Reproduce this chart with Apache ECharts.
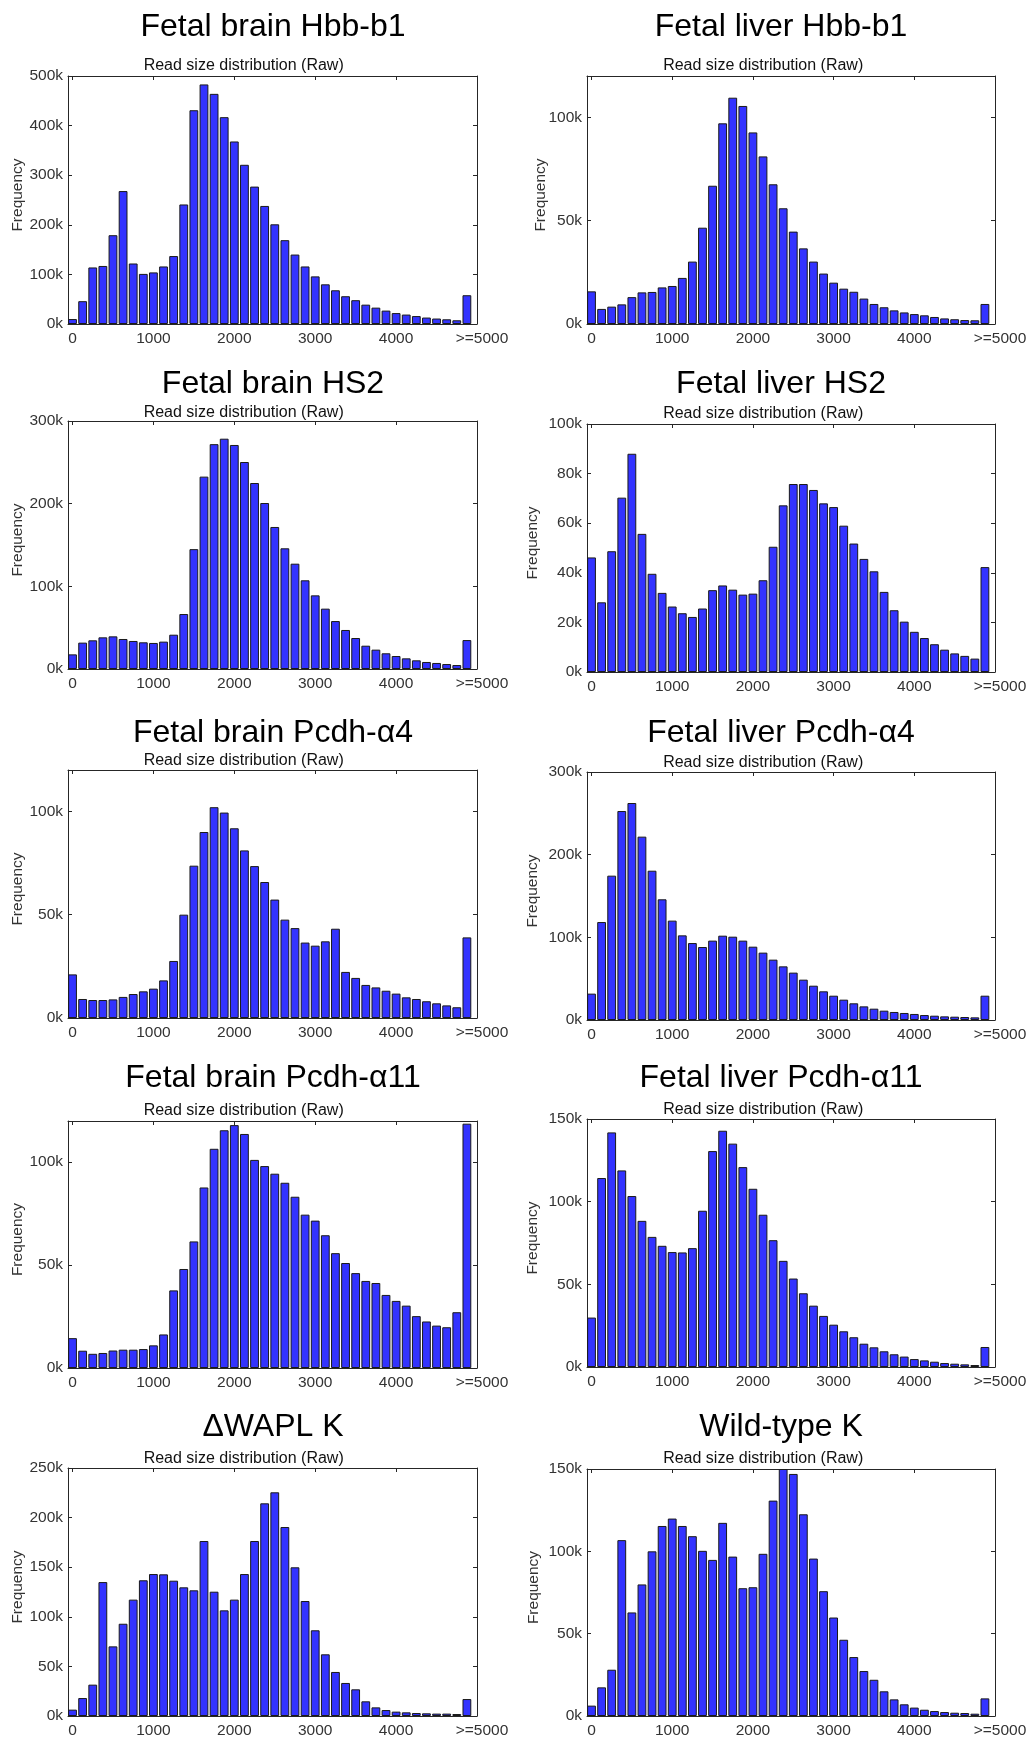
<!DOCTYPE html>
<html>
<head>
<meta charset="utf-8">
<script src="https://cdn.jsdelivr.net/npm/echarts@6/dist/echarts.min.js"></script>
<style>
  html, body { margin: 0; padding: 0; background: #ffffff; }
  #chart { width: 1032px; height: 1739px; }
</style>
</head>
<body>
<div id="chart"></div>
<script>
// Read-length bins (bp): one bar every 125 bp, last bin collects reads >= 5000
const binCenters = [0, 125, 250, 375, 500, 625, 750, 875, 1000, 1125,
  1250, 1375, 1500, 1625, 1750, 1875, 2000, 2125, 2250, 2375,
  2500, 2625, 2750, 2875, 3000, 3125, 3250, 3375, 3500, 3625,
  3750, 3875, 4000, 4125, 4250, 4375, 4500, 4625, 4750, 4875];

const xTickValues = [0, 1000, 2000, 3000, 4000, 5000];
const xTickLabels = ['0', '1000', '2000', '3000', '4000', '>=5000'];

// Read counts per bin, in thousands
const fetalBrainHbbB1 = [10, 46, 114, 117, 179, 268, 122, 101, 104, 116,
  137, 241, 431, 483, 464, 417, 368, 321, 277, 238,
  201, 169, 140, 116, 96, 80, 68, 56, 48, 39,
  33, 27, 22, 19, 16, 13, 11, 9.5, 7.5, 58];
const fetalLiverHbbB1 = [15.8, 7.3, 8.4, 9.5, 13, 15.3, 15.5, 17.7, 18.4, 22.3,
  30.2, 46.6, 66.9, 97.1, 109.5, 105.5, 92.7, 81.1, 67.6, 56,
  44.7, 36.6, 30.2, 24.4, 20, 17.1, 15.6, 12.3, 9.7, 8.1,
  6.6, 5.6, 4.8, 4.2, 3.4, 2.7, 2.3, 1.9, 1.8, 9.7];
const fetalBrainHS2 = [17.7, 31.9, 34.7, 38.3, 39.5, 36.3, 33.9, 32.3, 31.5, 33.1,
  41.5, 66.5, 145, 232.7, 272, 278.6, 271, 250.4, 225, 200.8,
  171.8, 146, 127.4, 107.3, 89.1, 73, 58, 47.2, 37.5, 28.2,
  23.4, 19, 15.7, 12.9, 10.5, 8.5, 7.3, 6, 4.8, 35];
const fetalLiverHS2 = [46.2, 28.1, 48.7, 70.3, 88, 55.7, 39.6, 31.9, 26.4, 23.7,
  22.2, 25.6, 33, 34.9, 33.2, 31.2, 31.6, 37, 50.5, 67.2,
  75.8, 75.8, 73.4, 68, 66.5, 59, 51.8, 45.6, 40.6, 32.3,
  24.9, 20.3, 16.2, 13.7, 11.2, 9, 7.5, 6.5, 5.4, 42.3];
const fetalBrainPcdhA4 = [21.1, 9.2, 8.7, 8.7, 9, 10.2, 11.6, 12.9, 14.2, 18.2,
  27.6, 50, 73.7, 90, 102, 99.4, 91.8, 81.1, 73.5, 65.8,
  57.3, 47.6, 43.5, 36.5, 35, 37.1, 43.2, 22.3, 19.4, 16,
  14.8, 13.2, 11.8, 10, 9.2, 8.1, 7.1, 6.1, 5.2, 39];
const fetalLiverPcdhA4 = [31.9, 118.5, 174.6, 252.8, 262.5, 221.8, 180.6, 146, 120.2, 102.4,
  93.1, 88.3, 96, 102, 100.8, 96, 88.7, 81.5, 73, 64.9,
  57.3, 48.8, 41.5, 34.7, 29.4, 24.6, 20.2, 16.5, 13.7, 11.3,
  9.7, 8.5, 7.3, 6, 5.2, 4.4, 4, 3.6, 3.2, 29.4];
const fetalBrainPcdhA11 = [14.5, 8.4, 6.9, 7.3, 8.5, 8.9, 8.9, 9.2, 11, 16.3,
  37.7, 48.1, 61.5, 87.7, 106.5, 115.5, 118, 113.7, 101.1, 98.1,
  94.4, 90, 83.2, 74.5, 71.6, 64.5, 55.8, 51, 46.1, 42.3,
  41.3, 35.5, 32.6, 30.3, 25.2, 22.6, 20.6, 19.8, 27.1, 118.7];
const fetalLiverPcdhA11 = [29.9, 114.3, 141.9, 118.9, 103.4, 88.4, 78.7, 73.3, 69.5, 69.3,
  71.9, 94.5, 130.6, 142.9, 135.1, 120.9, 107.8, 92.1, 76.7, 64.2,
  53.5, 44.6, 37.1, 30.9, 25.6, 21.6, 18, 14.1, 11.9, 9.5,
  7.7, 6.3, 4.8, 4, 3.2, 2.4, 2, 1.6, 1.2, 12.1];
const deltaWaplK = [6.4, 18.1, 31.6, 135, 70.2, 93, 117.3, 136.8, 143.1, 142.8,
  136.4, 129.7, 126.7, 176.4, 125.3, 106.5, 117.3, 143.1, 176.4, 214.4,
  225.5, 190.5, 149.9, 115.9, 86.4, 62.2, 44.4, 33.3, 26.9, 14.8,
  8.7, 6, 4.4, 3.7, 3, 2.7, 2.4, 2.4, 2, 17.1];
const wildTypeK = [6.3, 17.4, 28.1, 106.8, 62.9, 79.9, 100, 115.4, 119.9, 115.4,
  109.2, 100.3, 94.8, 117.3, 96.8, 77.6, 78.2, 98.5, 130.8, 150,
  147, 122.5, 95.6, 75.8, 59.8, 46.3, 35.8, 27.3, 22, 15,
  10.1, 7.1, 5.1, 3.8, 3, 2.4, 2, 1.8, 1.4, 10.7];

// y-axis tick values (thousands) and upper limits
const yTicksA = [0, 100, 200, 300, 400, 500];
const yTicksB = [0, 50, 100];
const yTicksC = [0, 100, 200, 300];
const yTicksD = [0, 20, 40, 60, 80, 100];
const yTicksE = [0, 50, 100, 150];
const yTicksF = [0, 50, 100, 150, 200, 250];

const panels = [
  { title: 'Fetal brain Hbb-b1',   values: fetalBrainHbbB1,   yTicks: yTicksA, yMax: 500 },
  { title: 'Fetal liver Hbb-b1',   values: fetalLiverHbbB1,   yTicks: yTicksB, yMax: 120 },
  { title: 'Fetal brain HS2',      values: fetalBrainHS2,     yTicks: yTicksC, yMax: 300 },
  { title: 'Fetal liver HS2',      values: fetalLiverHS2,     yTicks: yTicksD, yMax: 100 },
  { title: 'Fetal brain Pcdh-α4',  values: fetalBrainPcdhA4,  yTicks: yTicksB, yMax: 120 },
  { title: 'Fetal liver Pcdh-α4',  values: fetalLiverPcdhA4,  yTicks: yTicksC, yMax: 300 },
  { title: 'Fetal brain Pcdh-α11', values: fetalBrainPcdhA11, yTicks: yTicksB, yMax: 120 },
  { title: 'Fetal liver Pcdh-α11', values: fetalLiverPcdhA11, yTicks: yTicksE, yMax: 150 },
  { title: 'ΔWAPL K',              values: deltaWaplK,        yTicks: yTicksF, yMax: 250 },
  { title: 'Wild-type K',          values: wildTypeK,         yTicks: yTicksE, yMax: 150 }
];

// Page layout of the 5 x 2 panel grid (pixels)
const layout = [
  { top: 76,   height: 248, titleY: 27.5,   subY: 65.7,   nameX: 18 },
  { top: 76,   height: 248, titleY: 27.5,   subY: 65.7,   nameX: 541 },
  { top: 421,  height: 248, titleY: 384,    subY: 412.4,  nameX: 18 },
  { top: 424,  height: 248, titleY: 384,    subY: 414,    nameX: 533 },
  { top: 770,  height: 248, titleY: 733.2,  subY: 761,    nameX: 18 },
  { top: 772,  height: 248, titleY: 733.2,  subY: 762.7,  nameX: 533 },
  { top: 1121, height: 247, titleY: 1078,   subY: 1110.7, nameX: 18 },
  { top: 1119, height: 248, titleY: 1078,   subY: 1109.7, nameX: 533 },
  { top: 1468, height: 248, titleY: 1426.8, subY: 1459,   nameX: 18 },
  { top: 1469, height: 247, titleY: 1426.8, subY: 1459,   nameX: 534 }
];
const columns = [
  { left: 68,  width: 409, titleX: 273, subX: 243.7 },
  { left: 587, width: 408, titleX: 781, subX: 763.2 }
];

const FONT = '"Liberation Sans", Arial, Helvetica, sans-serif';
const FRAME = '#262626';
const LABEL = '#333333';
const X_MIN = -56;
const X_MAX = 5000;

const grids = [];
const xAxes = [];
const yAxes = [];
const series = [];
const graphics = [];

function xLabel(v) {
  const idx = xTickValues.indexOf(v);
  const text = idx >= 0 ? xTickLabels[idx] : '';
  return v === 5000 ? '{o|' + text + '}' : text;
}

panels.forEach((p, i) => {
  const col = columns[i % 2];
  const lay = layout[i];
  grids.push({ left: col.left, top: lay.top, width: col.width, height: lay.height, containLabel: false });

  const tickStyle = { show: true, inside: true, length: 4, lineStyle: { color: FRAME, width: 1 } };
  const lineStyle = { show: true, onZero: false, lineStyle: { color: FRAME, width: 1 } };

  // bottom x axis with labels
  xAxes.push({
    gridIndex: i, type: 'value', position: 'bottom', min: X_MIN, max: X_MAX,
    axisLine: lineStyle,
    axisTick: Object.assign({ customValues: xTickValues }, tickStyle),
    axisLabel: {
      customValues: xTickValues, formatter: xLabel, margin: 7,
      fontFamily: FONT, fontSize: 15.5, color: LABEL,
      rich: { o: { fontFamily: FONT, fontSize: 15.5, color: LABEL, padding: [0, 0, 0, 10] } }
    },
    splitLine: { show: false }
  });
  // mirrored top x axis (ticks only)
  xAxes.push({
    gridIndex: i, type: 'value', position: 'top', min: X_MIN, max: X_MAX,
    axisLine: lineStyle,
    axisTick: Object.assign({ customValues: xTickValues }, tickStyle),
    axisLabel: { show: false },
    splitLine: { show: false }
  });
  // left y axis with labels
  yAxes.push({
    gridIndex: i, type: 'value', position: 'left', min: 0, max: p.yMax,
    axisLine: lineStyle,
    axisTick: Object.assign({ customValues: p.yTicks }, tickStyle),
    axisLabel: {
      customValues: p.yTicks, formatter: v => v + 'k', margin: 5,
      fontFamily: FONT, fontSize: 15.5, color: LABEL
    },
    splitLine: { show: false }
  });
  // mirrored right y axis (ticks only)
  yAxes.push({
    gridIndex: i, type: 'value', position: 'right', min: 0, max: p.yMax,
    axisLine: lineStyle,
    axisTick: Object.assign({ customValues: p.yTicks }, tickStyle),
    axisLabel: { show: false },
    splitLine: { show: false }
  });

  series.push({
    type: 'bar',
    xAxisIndex: 2 * i,
    yAxisIndex: 2 * i,
    data: p.values.map((v, j) => [binCenters[j], v]),
    barWidth: 8.8,
    itemStyle: { color: '#3333ff', borderColor: '#1a1a1a', borderWidth: 1 },
    silent: true
  });

  // panel title
  graphics.push({
    type: 'text', x: col.titleX, y: lay.titleY, silent: true,
    style: {
      text: p.title, fontFamily: FONT, fontSize: 32, fill: '#000000',
      align: 'center', verticalAlign: 'middle', textAlign: 'center', textVerticalAlign: 'middle'
    }
  });
  // axes title
  graphics.push({
    type: 'text', x: col.subX, y: lay.subY, silent: true,
    style: {
      text: 'Read size distribution (Raw)', fontFamily: FONT, fontSize: 16, fill: '#111111',
      align: 'center', verticalAlign: 'middle', textAlign: 'center', textVerticalAlign: 'middle'
    }
  });
  // y-axis title
  graphics.push({
    type: 'text', x: lay.nameX, y: lay.top + lay.height / 2 - 5, rotation: Math.PI / 2, silent: true,
    style: {
      text: 'Frequency', fontFamily: FONT, fontSize: 15.5, fill: LABEL,
      align: 'center', verticalAlign: 'middle', textAlign: 'center', textVerticalAlign: 'middle'
    }
  });
});

const chart = echarts.init(document.getElementById('chart'), null, { renderer: 'canvas' });
chart.setOption({
  backgroundColor: '#ffffff',
  animation: false,
  grid: grids,
  xAxis: xAxes,
  yAxis: yAxes,
  series: series,
  graphic: graphics
});
</script>
</body>
</html>
